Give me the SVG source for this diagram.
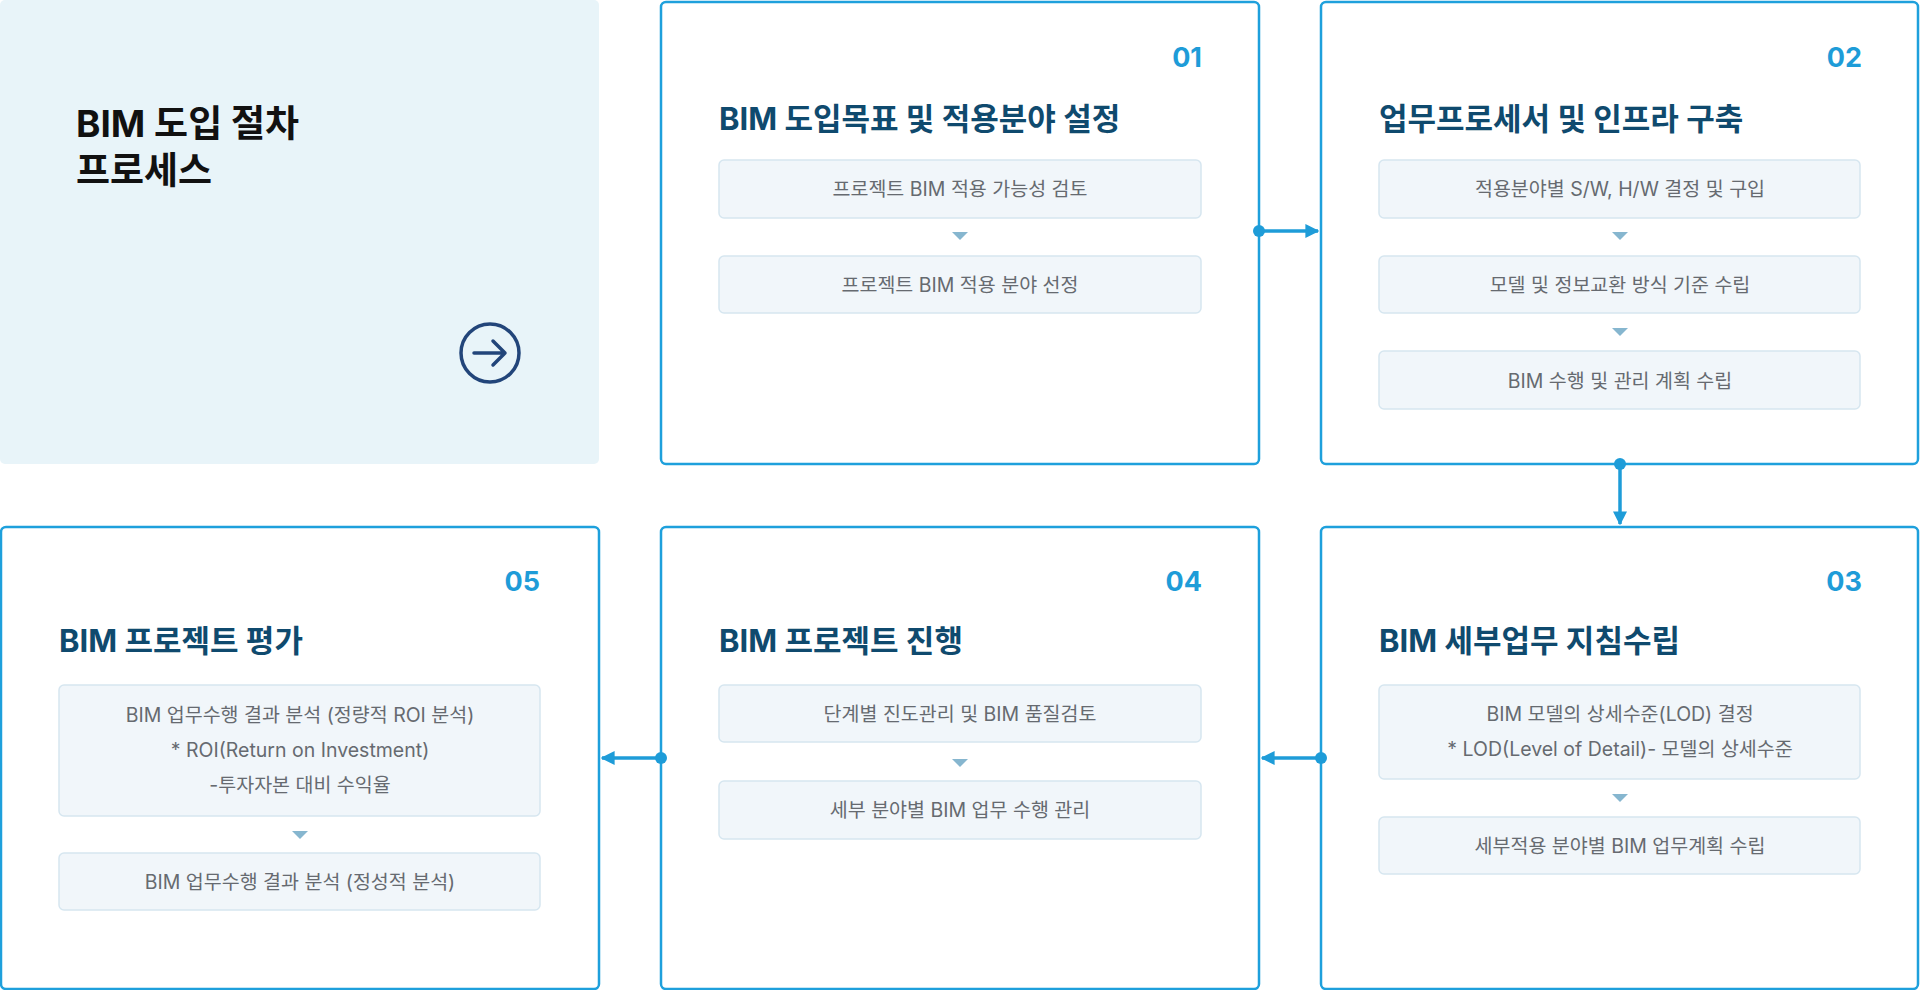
<svg xmlns="http://www.w3.org/2000/svg" width="1920" height="990" viewBox="0 0 1920 990">
<style>
text{font-family:Inter,"Noto Sans CJK KR",sans-serif}
.card{fill:#fff;stroke:#1ea0dc;stroke-width:2.5}
.num{font-size:27px;font-weight:700;fill:#1e9cd8;text-anchor:end}
.ttl{font-size:31px;font-weight:700;fill:#0f4a6e}
.box{fill:#f1f6fa;stroke:#d6e6f0;stroke-width:1.5}
.bt{font-size:19.5px;fill:#666a70;text-anchor:middle}
.tri{fill:#86b6cf}
.ln{stroke:#1e9cd8;stroke-width:3.5;fill:none}
.dot{fill:#1e9cd8}
</style>
<defs><marker id="ah" viewBox="0 0 10 10" refX="9" refY="5" markerWidth="4" markerHeight="4" orient="auto"><path d="M0,0L10,5L0,10z" fill="#1e9cd8"/></marker></defs>
<g id="intro">
<rect x="0" y="0" width="599" height="464" rx="5" fill="#e8f4f9"/>
<text x="76" y="137" style="font-size:37px;font-weight:700;fill:#111">BIM 도입 절차</text>
<text x="76" y="184" style="font-size:37px;font-weight:700;fill:#111">프로세스</text>
<circle cx="490" cy="353" r="29" fill="none" stroke="#22457a" stroke-width="3.5"/>
<path d="M474,353H505M493,341L505,353L493,365" fill="none" stroke="#22457a" stroke-width="3.5" stroke-linecap="round" stroke-linejoin="round"/>
</g>
<g id="step01">
<rect class="card" x="661" y="2" width="598" height="462" rx="5"/>
<text class="num" x="1202" y="67">01</text>
<text class="ttl" x="719" y="130">BIM 도입목표 및 적용분야 설정</text>
<rect class="box" x="719" y="160" width="482" height="58" rx="5"/>
<text class="bt" x="960" y="196">프로젝트 BIM 적용 가능성 검토</text>
<path class="tri" d="M952,232h16l-8,8z"/>
<rect class="box" x="719" y="256" width="482" height="57" rx="5"/>
<text class="bt" x="960" y="292">프로젝트 BIM 적용 분야 선정</text>
</g>
<g id="step02">
<rect class="card" x="1321" y="2" width="597" height="462" rx="5"/>
<text class="num" x="1862" y="67">02</text>
<text class="ttl" x="1379" y="130">업무프로세서 및 인프라 구축</text>
<rect class="box" x="1379" y="160" width="481" height="58" rx="5"/>
<text class="bt" x="1620" y="196">적용분야별 S/W, H/W 결정 및 구입</text>
<path class="tri" d="M1612,232h16l-8,8z"/>
<rect class="box" x="1379" y="256" width="481" height="57" rx="5"/>
<text class="bt" x="1620" y="292">모델 및 정보교환 방식 기준 수립</text>
<path class="tri" d="M1612,328h16l-8,8z"/>
<rect class="box" x="1379" y="351" width="481" height="58" rx="5"/>
<text class="bt" x="1620" y="388">BIM 수행 및 관리 계획 수립</text>
</g>
<g id="step03">
<rect class="card" x="1321" y="527" width="597" height="462" rx="5"/>
<text class="num" x="1862" y="591">03</text>
<text class="ttl" x="1379" y="652">BIM 세부업무 지침수립</text>
<rect class="box" x="1379" y="685" width="481" height="94" rx="5"/>
<text class="bt" x="1620" y="721">BIM 모델의 상세수준(LOD) 결정</text>
<text class="bt" x="1620" y="756">* LOD(Level of Detail)- 모델의 상세수준</text>
<path class="tri" d="M1612,794h16l-8,8z"/>
<rect class="box" x="1379" y="817" width="481" height="57" rx="5"/>
<text class="bt" x="1620" y="853">세부적용 분야별 BIM 업무계획 수립</text>
</g>
<g id="step04">
<rect class="card" x="661" y="527" width="598" height="462" rx="5"/>
<text class="num" x="1202" y="591">04</text>
<text class="ttl" x="719" y="652">BIM 프로젝트 진행</text>
<rect class="box" x="719" y="685" width="482" height="57" rx="5"/>
<text class="bt" x="960" y="721">단계별 진도관리 및 BIM 품질검토</text>
<path class="tri" d="M952,759h16l-8,8z"/>
<rect class="box" x="719" y="781" width="482" height="58" rx="5"/>
<text class="bt" x="960" y="817">세부 분야별 BIM 업무 수행 관리</text>
</g>
<g id="step05">
<rect class="card" x="1" y="527" width="598" height="462" rx="5"/>
<text class="num" x="540" y="591">05</text>
<text class="ttl" x="59" y="652">BIM 프로젝트 평가</text>
<rect class="box" x="59" y="685" width="481" height="131" rx="5"/>
<text class="bt" x="300" y="722">BIM 업무수행 결과 분석 (정량적 ROI 분석)</text>
<text class="bt" x="300" y="757">* ROI(Return on Investment)</text>
<text class="bt" x="300" y="792">-투자자본 대비 수익율</text>
<path class="tri" d="M292,831h16l-8,8z"/>
<rect class="box" x="59" y="853" width="481" height="57" rx="5"/>
<text class="bt" x="300" y="889">BIM 업무수행 결과 분석 (정성적 분석)</text>
</g>
<g id="connectors">
<circle class="dot" cx="1259" cy="231" r="6"/>
<line class="ln" x1="1259" y1="231" x2="1318" y2="231" marker-end="url(#ah)"/>
<circle class="dot" cx="1620" cy="464" r="6"/>
<line class="ln" x1="1620" y1="464" x2="1620" y2="524" marker-end="url(#ah)"/>
<circle class="dot" cx="1321" cy="758" r="6"/>
<line class="ln" x1="1321" y1="758" x2="1262" y2="758" marker-end="url(#ah)"/>
<circle class="dot" cx="661" cy="758" r="6"/>
<line class="ln" x1="661" y1="758" x2="602" y2="758" marker-end="url(#ah)"/>
</g>
</svg>
